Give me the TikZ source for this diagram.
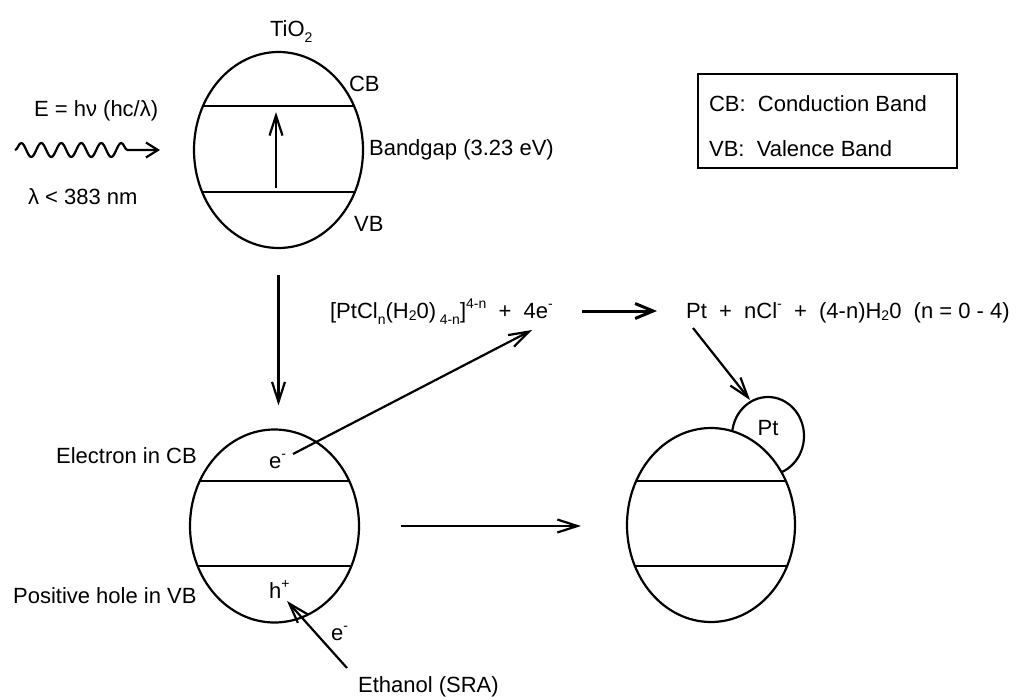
\documentclass[tikz,border=0pt]{standalone}
\usepackage{fontspec}
\setmainfont{Liberation Sans}
\usetikzlibrary{shapes.geometric,arrows.meta,decorations.pathmorphing}
\newcommand\lowsub[1]{\raisebox{-0.3em}{\fontsize{14}{14}\selectfont #1}}
\newcommand\midsub[1]{\raisebox{-0.12em}{\fontsize{14}{14}\selectfont #1}}
\newcommand\hisup[1]{\raisebox{0.45em}{\fontsize{14}{14}\selectfont #1}}
\begin{document}
\begin{tikzpicture}[x=1pt,y=-1pt,
  font=\fontsize{22}{26}\selectfont,
  line width=2.2pt,
  txt/.style={anchor=base west, inner sep=0pt},
  ctxt/.style={anchor=base, inner sep=0pt},
  ell/.style={draw, ellipse, inner sep=0pt, fill=white},
  arr/.style={-{Straight Barb[length=20pt,width=13pt]}},
  thickarr/.style={line width=3pt,-{Straight Barb[length=18pt,width=15pt]}}]
\useasboundingbox (0,0) rectangle (1017,696);

% ---------- top particle ----------
\node[ell, minimum width=169pt, minimum height=196pt] (top) at (278.5,150) {};
\draw (203,106) -- (354,106);
\draw (202.2,192) -- (354.8,192);
\coordinate (upS) at (276,188);
\coordinate (upE) at (276,112);
\draw[arr] (upS) -- (upE);
\node[txt] (tio2) at (269,36) {TiO\lowsub{2}};
\node[txt] (cbtop) at (348,91) {CB};
\node[txt] (gap) at (368,155) {Bandgap (3.23 eV)};
\node[txt] (vbtop) at (353,231) {VB};

% ---------- light ----------
\node[txt] (energy) at (33,116) {E = hν (hc/λ)};
\coordinate (w1) at (15,150);
\coordinate (w2) at (160,150);
\draw[decorate, decoration={snake, amplitude=7pt, segment length=20pt, post length=24pt},
      -{Straight Barb[length=12pt,width=15pt]}] (w1) -- (w2);
\node[txt] (lambda) at (27,204) {λ < 383 nm};

% ---------- legend ----------
\node[draw, minimum width=259pt, minimum height=94pt, anchor=north west, inner sep=0pt] (legend) at (697,73) {};
\node[txt] (lcb) at (708,111) {CB:~~Conduction Band};
\node[txt] (lvb) at (708,156) {VB:~~Valence Band};

% ---------- bottom-left particle ----------
\node[ell, minimum width=169pt, minimum height=193pt] (bl) at (274.5,526) {};
\draw (199.8,481) -- (349.2,481);
\draw (197.6,566) -- (351.4,566);
\draw[arr] ([yshift=-26pt]top.south) -- ([yshift=23pt]top.south |- bl.north);
\node[txt] (elec) at (55,463) {Electron in CB};
\node[txt] (hole) at (12,603) {Positive hole in VB};
\node[txt] (em) at (268,468) {e\hisup{-}};
\node[txt] (hp) at (268,598) {h\hisup{+}};
\node[txt] (em2) at (330,640) {e\hisup{-}};
\node[txt] (eth) at (357,692) {Ethanol (SRA)};
\coordinate (ethS) at (347,668);
\coordinate (ethE) at (287,601);
\draw[arr] (ethS) -- (ethE);

% ---------- reaction ----------
\node[txt] (react) at (329,318) {[PtCl\lowsub{n}(H\midsub{2}0)\,\lowsub{4-n}]\hisup{4-n}~~+~~4e\hisup{-}};
\node[txt] (prod) at (685,318) {Pt~~+~~nCl\hisup{-}~~+~~(4-n)H\midsub{2}0~~(n = 0 - 4)};
\coordinate (rS) at (582,311);
\coordinate (rE) at (657,311);
\draw[thickarr] (rS) -- (rE);
\coordinate (dS) at (293,454);
\coordinate (dE) at (532,330);
\draw[arr] (dS) -- (dE);

% ---------- right particle with Pt ----------
\node[ell, minimum width=72pt, minimum height=78pt] (ptc) at (768,436) {};
\node[ell, minimum width=168pt, minimum height=194pt] (br) at (711,525) {};
\draw (636,481) -- (786,481);
\draw (635,566) -- (787,566);
\node[ctxt] (ptl) at (768,435) {Pt};
\coordinate (pS) at (693,328);
\coordinate (pE) at (750,400);
\draw[arr] (pS) -- (pE);

% middle arrow
\draw[arr] ([xshift=41pt]bl.east) -- ([xshift=-45pt]br.west |- bl.east);
\end{tikzpicture}
\end{document}
